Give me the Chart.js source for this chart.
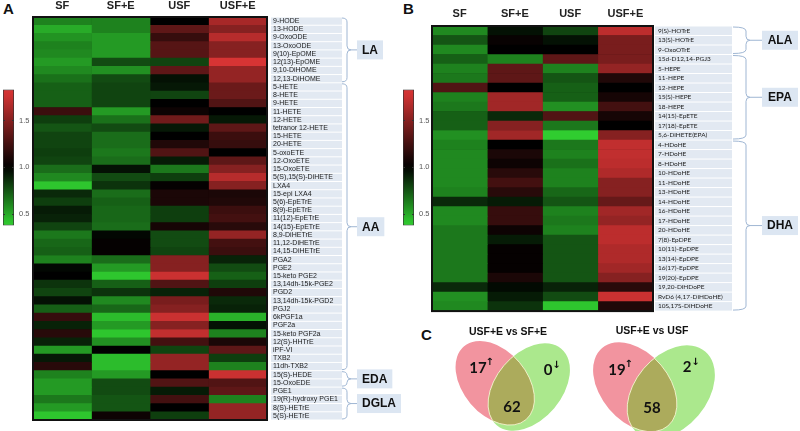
<!DOCTYPE html>
<html>
<head>
<meta charset="utf-8">
<script src="https://cdn.jsdelivr.net/npm/chart.js@4.4.0/dist/chart.umd.min.js"></script>
<style>
body { margin: 0; background: #fff; width: 800px; height: 431px; position: relative; overflow: hidden; font-family: 'Liberation Sans', Arial, sans-serif; }
canvas { position: absolute; }
.tag { position: absolute; font-weight: bold; font-size: 15px; color: #111; }
</style>
</head>
<body>
<div class="tag" style="left:3px;top:0px">A</div>
<div class="tag" style="left:403px;top:0px">B</div>
<div class="tag" style="left:421px;top:326px">C</div>
<canvas id="barA" width="40" height="155" style="left:0;top:80px"></canvas>
<canvas id="heatA" width="420" height="431" style="left:0;top:0"></canvas>
<canvas id="barB" width="40" height="155" style="left:400px;top:80px"></canvas>
<canvas id="heatB" width="380" height="320" style="left:420px;top:0"></canvas>
<canvas id="venn" width="380" height="113" style="left:420px;top:318px"></canvas>
<script>
// columns of both heatmaps
const columns = ['SF', 'SF+E', 'USF', 'USF+E'];

// panel A rows (fold change vs control)
const rowsA = ['9-HODE', '13-HODE', '9-OxoODE', '13-OxoODE', '9(10)-EpOME', '12(13)-EpOME', '9,10-DiHOME', '12,13-DiHOME',
    '5-HETE', '8-HETE', '9-HETE', '11-HETE', '12-HETE', 'tetranor 12-HETE', '15-HETE', '20-HETE', '5-oxoETE', '12-OxoETE',
    '15-OxoETE', '5(S),15(S)-DiHETE', 'LXA4', '15-epi LXA4', '5(6)-EpETrE', '8(9)-EpETrE', '11(12)-EpETrE', '14(15)-EpETrE',
    '8,9-DiHETrE', '11,12-DiHETrE', '14,15-DiHETrE', 'PGA2', 'PGE2', '15-keto PGE2', '13,14dh-15k-PGE2', 'PGD2',
    '13,14dh-15k-PGD2', 'PGJ2', '6kPGF1a', 'PGF2a', '15-keto PGF2a', '12(S)-HHTrE', 'iPF-VI', 'TXB2', '11dh-TXB2',
    '15(S)-HEDE', '15-OxoEDE', 'PGE1', '19(R)-hydroxy PGE1', '8(S)-HETrE', '5(S)-HETrE'];
const sfA = [0.62, 0.5, 0.57, 0.62, 0.6, 0.55, 0.6, 0.67, 0.72, 0.72, 0.72, 1.22, 0.82, 0.75, 0.8, 0.8, 0.82, 0.8, 0.68, 0.6,
    0.42, 0.88, 0.82, 0.92, 0.9, 0.8, 0.65, 0.7, 0.72, 0.62, 0.98, 1.0, 0.85, 0.8, 0.95, 0.72, 1.2, 0.9, 1.15, 0.9,
    0.55, 0.93, 1.15, 0.62, 0.55, 0.55, 0.65, 0.55, 0.42];
const sfeA = [0.62, 0.62, 0.55, 0.55, 0.55, 0.78, 0.58, 0.78, 0.8, 0.8, 0.8, 0.55, 0.67, 0.78, 0.68, 0.68, 0.65, 0.68, 0.95, 0.78,
    0.85, 0.68, 0.72, 0.7, 0.7, 0.68, 0.98, 1.02, 1.02, 0.68, 0.55, 0.42, 0.72, 0.85, 0.6, 0.7, 0.45, 0.55, 0.42, 0.58,
    1.0, 0.45, 0.45, 0.55, 0.78, 0.78, 0.75, 0.75, 1.05];
const usfA = [1.0, 1.35, 1.2, 1.32, 1.32, 0.8, 1.35, 0.95, 0.93, 0.8, 1.0, 1.05, 1.42, 0.93, 1.0, 1.12, 1.3, 0.92, 0.65, 0.82,
    1.02, 1.1, 1.1, 0.82, 0.82, 1.08, 0.78, 0.78, 0.8, 1.5, 1.5, 1.75, 1.3, 0.9, 1.45, 1.5, 1.75, 1.5, 1.72, 1.25,
    0.8, 1.55, 1.55, 1.0, 1.3, 0.92, 1.25, 1.0, 0.82];
const usfeA = [1.62, 1.5, 1.68, 1.5, 1.5, 1.85, 1.55, 1.55, 1.4, 1.4, 1.3, 1.0, 0.93, 1.35, 1.22, 1.2, 1.0, 1.35, 1.5, 1.68,
    1.5, 1.1, 1.12, 1.22, 1.25, 1.15, 1.55, 1.25, 1.22, 0.9, 0.78, 0.72, 0.82, 1.12, 0.88, 0.9, 0.48, 0.95, 0.62, 1.1,
    1.35, 0.82, 0.62, 1.75, 1.3, 1.35, 0.62, 1.55, 1.55];
const groupsA = ['LA', 'AA', 'EDA', 'DGLA'];
const groupSizesA = [8, 35, 2, 4];

// panel B rows
const rowsB = ['9(S)-HOTrE', '13(S)-HOTrE', '9-OxoOTrE', '15d-D12,14-PGJ3', '5-HEPE', '11-HEPE', '12-HEPE', '15(S)-HEPE',
    '18-HEPE', '14(15)-EpETE', '17(18)-EpETE', '5,6-DiHETE(EPA)', '4-HDoHE', '7-HDoHE', '8-HDoHE', '10-HDoHE', '11-HDoHE',
    '13-HDoHE', '14-HDoHE', '16-HDoHE', '17-HDoHE', '20-HDoHE', '7(8)-EpDPE', '10(11)-EpDPE', '13(14)-EpDPE',
    '16(17)-EpDPE', '19(20)-EpDPE', '19,20-DiHDoPE', 'RvD6 (4,17-DiHDoHE)', '10S,17S-DiHDoHE'];
const sfB = [0.6, 0.75, 0.6, 0.72, 0.62, 0.65, 1.3, 0.62, 0.65, 0.72, 0.72, 0.58, 0.62, 0.6, 0.6, 0.6, 0.6, 0.62, 0.88, 0.6,
    0.6, 0.65, 0.65, 0.65, 0.65, 0.65, 0.65, 0.88, 0.58, 0.6];
const sfeB = [0.95, 1.03, 1.0, 0.62, 1.35, 1.35, 1.0, 1.6, 1.6, 0.88, 1.5, 1.6, 1.0, 1.1, 1.05, 1.15, 1.25, 1.15, 0.92, 1.2,
    1.2, 1.05, 0.92, 1.02, 1.02, 1.02, 1.1, 0.97, 0.92, 0.85];
const usfB = [0.8, 0.95, 1.0, 1.35, 0.62, 0.75, 0.72, 0.72, 0.58, 1.3, 0.65, 0.38, 0.65, 0.62, 0.67, 0.62, 0.62, 0.7, 0.75, 0.62,
    0.65, 0.62, 0.75, 0.75, 0.75, 0.75, 0.75, 0.9, 0.78, 0.42];
const usfeB = [1.7, 1.45, 1.45, 1.45, 1.55, 1.12, 1.0, 1.08, 1.25, 1.08, 1.0, 1.5, 1.72, 1.72, 1.7, 1.65, 1.5, 1.5, 1.38, 1.6,
    1.55, 1.7, 1.7, 1.65, 1.65, 1.6, 1.5, 1.15, 1.75, 1.12];
const groupsB = ['ALA', 'EPA', 'DHA'];
const groupSizesB = [3, 9, 18];

// colour key
const keyTicks = [0.5, 1.0, 1.5];
const keyMin = 0.38;
const keyMax = 1.83;

// panel C
const vennTitles = ['USF+E vs SF+E', 'USF+E vs USF'];
const vennUp = [17, 19];
const vennDown = [0, 2];
const vennShared = [62, 58];

// green - black - red scale
function heatColor(v) {
    if (v < 1) {
        const f = Math.min(1, (1 - v) / 0.6);
        return `rgb(${Math.round(48 * f)},${Math.round(205 * f)},${Math.round(48 * f)})`;
    }
    const f = Math.min(1, (v - 1) / 0.8);
    return `rgb(${Math.round(215 * f)},${Math.round(52 * f)},${Math.round(52 * f)})`;
}

function drawBrace(ctx, x0, y1, y2, w, tip, boxX) {
    const xm = x0 + w;
    const ym = (y1 + y2) / 2;
    const r = Math.min(4, (y2 - y1) / 4);
    ctx.beginPath();
    ctx.moveTo(x0, y1);
    ctx.quadraticCurveTo(xm, y1, xm, y1 + r);
    ctx.lineTo(xm, ym - r);
    ctx.quadraticCurveTo(xm, ym, xm + tip, ym);
    ctx.quadraticCurveTo(xm, ym, xm, ym + r);
    ctx.lineTo(xm, y2 - r);
    ctx.quadraticCurveTo(xm, y2, x0, y2);
    ctx.moveTo(xm + tip, ym);
    ctx.lineTo(boxX, ym);
    ctx.stroke();
}

function heatDecor(look, groups, sizes) {
    return {
        id: 'heatDecor',
        beforeDraw(chart) {
            const { ctx, chartArea: a, scales } = chart;
            const y = scales.y;
            const rowH = (a.bottom - a.top) / y.ticks.length;
            ctx.save();
            ctx.fillStyle = '#000';
            ctx.fillRect(a.left, a.top, a.right - a.left, a.bottom - a.top);
            ctx.fillStyle = '#e2e9f2';
            y.ticks.forEach((t, i) => {
                const yc = y.getPixelForTick(i);
                ctx.fillRect(a.right + look.boxOffset, yc - rowH / 2 + 0.5, look.boxW, rowH - 1);
            });
            ctx.restore();
        },
        afterDatasetsDraw(chart) {
            const { ctx, chartArea: a } = chart;
            ctx.save();
            ctx.strokeStyle = '#111';
            ctx.lineWidth = 2;
            ctx.strokeRect(a.left, a.top, a.right - a.left, a.bottom - a.top);
            ctx.restore();
        },
        afterDraw(chart) {
            const { ctx, chartArea: a, scales } = chart;
            const y = scales.y;
            const rowH = (a.bottom - a.top) / y.ticks.length;
            ctx.save();
            ctx.strokeStyle = '#9fb6d3';
            ctx.lineWidth = 1;
            let start = 0;
            groups.forEach((name, g) => {
                const end = start + sizes[g] - 1;
                const y1 = y.getPixelForTick(start) - rowH / 2 + 1;
                const y2 = y.getPixelForTick(end) + rowH / 2 - 1;
                const boxX = a.right + look.groupX;
                drawBrace(ctx, a.right + look.braceX, y1, y2, look.braceW, look.tip, boxX);
                ctx.font = 'bold 12px "Liberation Sans", Arial, sans-serif';
                const tw = ctx.measureText(name).width;
                const bw = look.groupW || tw + 10;
                const ym = (y1 + y2) / 2;
                ctx.fillStyle = '#dce6f2';
                ctx.fillRect(boxX, ym - 9.5, bw, 19);
                ctx.fillStyle = '#111';
                ctx.textAlign = 'center';
                ctx.textBaseline = 'middle';
                ctx.fillText(name, boxX + bw / 2, ym + 0.5);
                start = end + 1;
            });
            ctx.restore();
        }
    };
}

function makeHeatmap(id, rows, series, groups, sizes, look) {
    new Chart(document.getElementById(id), {
        type: 'bar',
        data: {
            labels: rows,
            datasets: series.map((vals, i) => ({
                label: columns[i],
                data: vals.map(() => 1),
                backgroundColor: vals.map(heatColor),
                borderWidth: 0,
                barPercentage: 1,
                categoryPercentage: 1
            }))
        },
        options: {
            indexAxis: 'y',
            responsive: false,
            animation: false,
            layout: { padding: { left: look.padLeft, right: 0, top: 0, bottom: look.padBottom } },
            plugins: { legend: { display: false }, tooltip: { enabled: false } },
            scales: {
                x: { stacked: true, min: 0, max: 4, display: false },
                xTop: {
                    type: 'category',
                    labels: columns,
                    position: 'top',
                    offset: true,
                    grid: { display: false, drawTicks: false },
                    border: { display: false },
                    ticks: {
                        color: '#222',
                        padding: look.titlePad,
                        maxRotation: 0,
                        font: { family: '"Liberation Sans", Arial, sans-serif', size: 11, weight: 'bold' }
                    },
                    afterFit: s => { s.height = look.topH; }
                },
                y: {
                    stacked: true,
                    position: 'right',
                    grid: { display: false, drawTicks: false },
                    border: { display: false },
                    ticks: {
                        autoSkip: false,
                        color: '#222',
                        padding: look.labelPad,
                        font: { family: look.labelFamily, size: look.labelSize }
                    },
                    afterFit: s => { s.width = look.axisW; }
                }
            }
        },
        plugins: [heatDecor(look, groups, sizes)]
    });
}

function makeKey(id) {
    new Chart(document.getElementById(id), {
        type: 'bar',
        data: {
            labels: [''],
            datasets: [{
                data: [[keyMin, keyMax]],
                backgroundColor: (c) => {
                    const { chart } = c;
                    const ys = chart.scales.y;
                    if (!chart.chartArea || !ys) return '#000';
                    const g = chart.ctx.createLinearGradient(0, ys.getPixelForValue(keyMin), 0, ys.getPixelForValue(keyMax));
                    for (let i = 0; i <= 20; i++) {
                        g.addColorStop(i / 20, heatColor(keyMin + (keyMax - keyMin) * i / 20));
                    }
                    return g;
                },
                borderColor: '#333',
                borderWidth: 1,
                borderSkipped: false,
                barPercentage: 1,
                categoryPercentage: 1
            }]
        },
        options: {
            responsive: false,
            animation: false,
            layout: { padding: { left: 3, right: 0, top: 5, bottom: 5 } },
            plugins: { legend: { display: false }, tooltip: { enabled: false } },
            scales: {
                x: { display: false },
                y: {
                    position: 'right',
                    min: keyMin,
                    max: keyMax,
                    afterBuildTicks: s => { s.ticks = keyTicks.map(v => ({ value: v })); },
                    grid: { display: false, drawTicks: false },
                    border: { display: false },
                    ticks: {
                        color: '#555',
                        padding: 5,
                        font: { family: '"Liberation Sans", Arial, sans-serif', size: 7.5 },
                        callback: v => v.toFixed(1)
                    },
                    afterFit: s => { s.width = 26; }
                }
            }
        },
        plugins: [{
            id: 'keyTicks',
            afterDatasetsDraw(chart) {
                const { ctx, chartArea: a, scales } = chart;
                ctx.save();
                ctx.strokeStyle = '#333';
                ctx.lineWidth = 1;
                keyTicks.forEach(v => {
                    const py = Math.round(scales.y.getPixelForValue(v)) + 0.5;
                    ctx.beginPath();
                    ctx.moveTo(a.left, py); ctx.lineTo(a.left + 2, py);
                    ctx.moveTo(a.right - 2, py); ctx.lineTo(a.right, py);
                    ctx.stroke();
                });
                ctx.restore();
            }
        }]
    });
}

makeKey('barA');
makeKey('barB');

makeHeatmap('heatA', rowsA, [sfA, sfeA, usfA, usfeA], groupsA, groupSizesA, {
    padLeft: 33, padBottom: 11, topH: 17, axisW: 153, titlePad: 4,
    labelFamily: '"Liberation Sans", Arial, sans-serif', labelSize: 7, labelPad: 6,
    boxOffset: 4, boxW: 71, braceX: 75, braceW: 5, tip: 4, groupX: 90
});

makeHeatmap('heatB', rowsB, [sfB, sfeB, usfB, usfeB], groupsB, groupSizesB, {
    padLeft: 12, padBottom: 6.5, topH: 26, axisW: 147, titlePad: 5,
    labelFamily: 'Lato, "Open Sans", sans-serif', labelSize: 6.5, labelPad: 5,
    boxOffset: 2, boxW: 77, braceX: 80, braceW: 13, tip: 4, groupX: 109, groupW: 36
});

// venn layout, in local canvas units: ellipse = [cx, cy, major, minor]
const vennLook = [
    { title: [88, 14], pink: [75, 65, 48, 32], green: [109, 69, 50, 33], up: [58, 50], down: [128, 52], shared: [92, 89] },
    { title: [232, 13], pink: [215, 69, 51, 34], green: [251, 74, 53, 36], up: [197, 52], down: [267, 49], shared: [232, 90] }
];

new Chart(document.getElementById('venn'), {
    type: 'scatter',
    data: { datasets: [] },
    options: {
        responsive: false,
        animation: false,
        layout: { padding: 0 },
        plugins: { legend: { display: false }, tooltip: { enabled: false } },
        scales: {
            x: { display: false, min: 0, max: 380 },
            y: { display: false, min: 0, max: 113, reverse: true }
        }
    },
    plugins: [{
        id: 'vennDraw',
        afterDraw(chart) {
            const { ctx, scales } = chart;
            const px = v => scales.x.getPixelForValue(v);
            const py = v => scales.y.getPixelForValue(v);
            const tilt = 0.87;
            const ell = (e, rot) => {
                ctx.beginPath();
                ctx.ellipse(px(e[0]), py(e[1]), e[2], e[3], rot, 0, Math.PI * 2);
            };
            ctx.save();
            vennLook.forEach((L, i) => {
                ell(L.pink, tilt);
                ctx.fillStyle = '#f2949f';
                ctx.fill();
                ell(L.green, Math.PI - tilt);
                ctx.fillStyle = '#abe88d';
                ctx.fill();
                ctx.save();
                ell(L.pink, tilt);
                ctx.clip();
                ell(L.green, Math.PI - tilt);
                ctx.fillStyle = '#acab5c';
                ctx.fill();
                ctx.strokeStyle = 'rgba(255,250,220,0.8)';
                ctx.lineWidth = 1;
                ctx.stroke();
                ctx.restore();
                ctx.save();
                ell(L.green, Math.PI - tilt);
                ctx.clip();
                ell(L.pink, tilt);
                ctx.strokeStyle = 'rgba(255,250,220,0.8)';
                ctx.lineWidth = 1;
                ctx.stroke();
                ctx.restore();

                ctx.fillStyle = '#111';
                ctx.textAlign = 'center';
                ctx.textBaseline = 'middle';
                ctx.font = 'bold 10.5px "Liberation Sans", Arial, sans-serif';
                ctx.fillText(vennTitles[i], px(L.title[0]), py(L.title[1]));

                ctx.font = 'bold 15px Lato, "Liberation Sans", sans-serif';
                ctx.fillText(String(vennUp[i]), px(L.up[0]), py(L.up[1]));
                ctx.fillText(String(vennDown[i]), px(L.down[0]), py(L.down[1]));
                ctx.fillText(String(vennShared[i]), px(L.shared[0]), py(L.shared[1]));
                const uw = ctx.measureText(String(vennUp[i])).width;
                const dw = ctx.measureText(String(vennDown[i])).width;

                // small arrows beside the counts
                ctx.font = 'bold 10px "DejaVu Sans", sans-serif';
                ctx.fillText('\u2191', px(L.up[0]) + uw / 2 + 3, py(L.up[1]) - 6);
                ctx.fillText('\u2193', px(L.down[0]) + dw / 2 + 4, py(L.down[1]) - 5);
            });
            ctx.restore();
        }
    }]
});
</script>
</body>
</html>
